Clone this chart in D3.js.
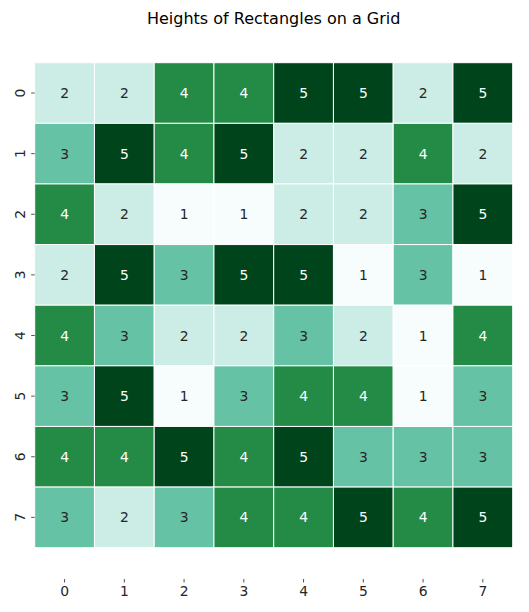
<!DOCTYPE html>
<html><head><meta charset="utf-8">
<script src="https://cdn.jsdelivr.net/npm/d3@7"></script>
<style>body{margin:0;background:#fff}svg{display:block}text{font-family:"DejaVu Sans",sans-serif}</style>
</head><body>
<svg id="c" width="529" height="612"></svg>
<script>
const title = "Heights of Rectangles on a Grid";
const rowLabels = ["0","1","2","3","4","5","6","7"];
const colLabels = ["0","1","2","3","4","5","6","7"];
const row0 = [2,2,4,4,5,5,2,5];
const row1 = [3,5,4,5,2,2,4,2];
const row2 = [4,2,1,1,2,2,3,5];
const row3 = [2,5,3,5,5,1,3,1];
const row4 = [4,3,2,2,3,2,1,4];
const row5 = [3,5,1,3,4,4,1,3];
const row6 = [4,4,5,4,5,3,3,3];
const row7 = [3,2,3,4,4,5,4,5];
const rows = [row0,row1,row2,row3,row4,row5,row6,row7];

(function(){
const svg = d3.select("#c");
const L = 34.7, R = 512.7, T = 62.7, B = 547.7;
const x = d3.scaleBand().domain(colLabels).range([L, R]);
const y = d3.scaleBand().domain(rowLabels).range([T, B]);
const bugn = ["#f7fcfd","#e5f5f9","#ccece6","#99d8c9","#66c2a4","#41ae76","#238b45","#006d2c","#00441b"];
const color = d3.scaleLinear().domain(d3.range(9).map(i=>1+i*0.5)).range(bugn).interpolate(d3.interpolateRgb);

const cells = [];
rows.forEach((r,i)=>r.forEach((v,j)=>cells.push({r:rowLabels[i],c:colLabels[j],v})));

const g = svg.append("g");
g.selectAll("rect").data(cells).join("rect")
  .attr("x", d=>x(d.c)).attr("y", d=>y(d.r))
  .attr("width", x.bandwidth()).attr("height", y.bandwidth())
  .attr("fill", d=>color(d.v))
  .attr("stroke", "#fff").attr("stroke-width", 1);

g.selectAll("text.ann").data(cells).join("text").attr("class","ann")
  .attr("x", d=>x(d.c)+x.bandwidth()/2).attr("y", d=>y(d.r)+y.bandwidth()/2)
  .attr("text-anchor","middle").attr("dominant-baseline","central")
  .attr("font-size","13.9px")
  .attr("fill", d=> d.v>=4 ? "#ffffff" : "#262626")
  .text(d=>d.v);

const xAxisY = 579;
const xa = svg.append("g");
colLabels.forEach(c=>{
  const cx = x(c)+x.bandwidth()/2;
  xa.append("line").attr("x1",cx).attr("x2",cx).attr("y1",xAxisY).attr("y2",xAxisY+3.5).attr("stroke","#262626").attr("stroke-width",0.8);
  xa.append("text").attr("x",cx).attr("y",xAxisY+5.5).attr("dy","0.8em")
    .attr("text-anchor","middle").attr("font-size","13.9px").attr("fill","#262626").text(c);
});
const ya = svg.append("g");
rowLabels.forEach(r=>{
  const cy = y(r)+y.bandwidth()/2;
  ya.append("line").attr("x1",L-3.5).attr("x2",L).attr("y1",cy).attr("y2",cy).attr("stroke","#262626").attr("stroke-width",0.8);
  ya.append("text").attr("transform",`translate(${L-10},${cy}) rotate(-90)`)
    .attr("text-anchor","middle").attr("font-size","13.9px").attr("fill","#262626").text(r);
});

svg.append("text").attr("x",(L+R)/2).attr("y",24)
  .attr("text-anchor","middle").attr("font-size","16px").attr("fill","#000").text(title);
})();
</script>
</body></html>
